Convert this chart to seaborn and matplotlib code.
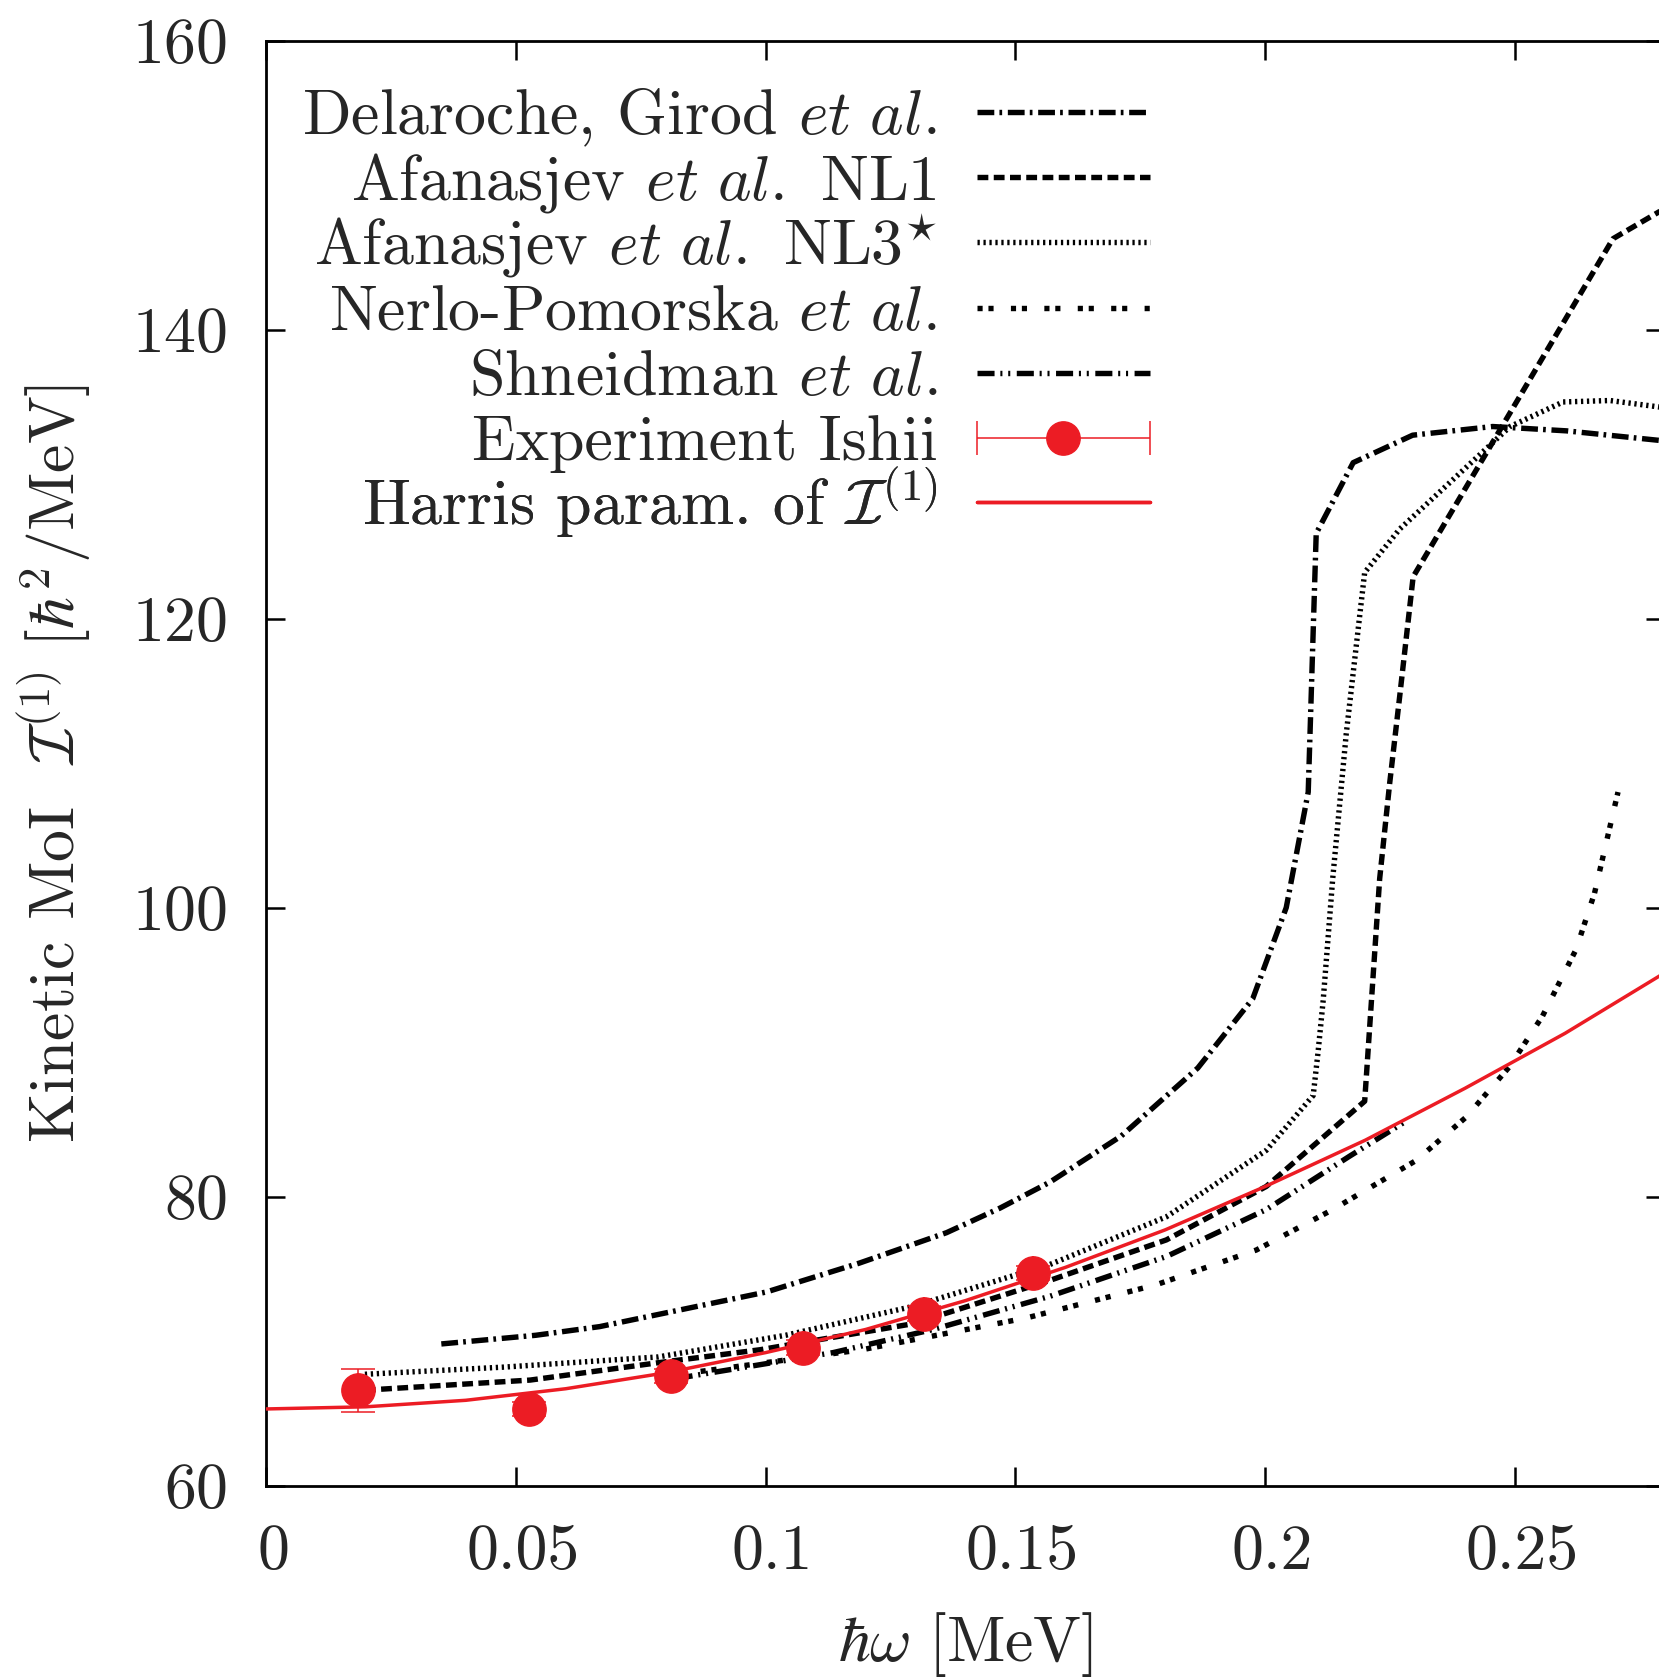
import numpy as np
import matplotlib
matplotlib.use("Agg")
import matplotlib.pyplot as plt
import seaborn as sns
from matplotlib.container import ErrorbarContainer
from matplotlib.legend_handler import HandlerErrorbar
from matplotlib.lines import Line2D
from matplotlib.transforms import ScaledTranslation

# ---------------- data ----------------
delaroche_w = [0.0351, 0.0540, 0.0668, 0.0835, 0.1002, 0.1188, 0.1362, 0.1469, 0.1569,
               0.1712, 0.1865, 0.1975, 0.2042, 0.2086, 0.2102, 0.2176, 0.2295, 0.2455,
               0.2603, 0.2800]
delaroche_I = [69.8, 70.4, 71.0, 72.2, 73.4, 75.4, 77.5, 79.2, 81.0,
               84.2, 88.9, 93.7, 100.0, 108.0, 125.9, 130.8, 132.7, 133.3,
               133.0, 132.3]

nl1_w = [0.0198, 0.0529, 0.0785, 0.0989, 0.1295, 0.1569, 0.1802, 0.2002, 0.2199,
         0.2229, 0.2249, 0.2269, 0.2296, 0.2696, 0.2800]
nl1_I = [66.6, 67.3, 68.5, 69.4, 71.2, 74.2, 77.0, 80.7, 86.6,
         102.0, 108.6, 114.6, 122.9, 146.3, 148.4]

nl3_w = [0.0198, 0.0478, 0.0785, 0.1040, 0.1295, 0.1569, 0.1802, 0.2002, 0.2096,
         0.2106, 0.2116, 0.2135, 0.2162, 0.2189, 0.2199, 0.2269, 0.2490, 0.2596,
         0.2690, 0.2800]
nl3_I = [67.7, 68.2, 68.9, 70.4, 72.4, 75.3, 78.6, 83.2, 87.0,
         90.1, 93.6, 102.0, 112.0, 120.2, 123.2, 126.2, 133.3, 135.0,
         135.1, 134.6]

nerlo_w = [0.0870, 0.1193, 0.1402, 0.1522, 0.1782, 0.1982, 0.2135, 0.2302, 0.2402,
           0.2489, 0.2555, 0.2622, 0.2659, 0.2706]
nerlo_I = [67.9, 69.4, 70.8, 71.6, 73.9, 76.3, 79.1, 82.5, 85.5,
           89.0, 92.5, 97.1, 101.0, 108.0]

shneidman_w = [0.0820, 0.1135, 0.1335, 0.1569, 0.1802, 0.2002, 0.2169, 0.2276]
shneidman_I = [67.4, 69.2, 70.8, 73.1, 75.85, 79.1, 82.8, 85.1]

exp_w = [0.0184, 0.0527, 0.0810, 0.1074, 0.1317, 0.1535]
exp_I = [66.6, 65.3, 67.6, 69.55, 71.9, 74.7]
exp_err = [1.5, 0.5, 0.5, 0.5, 0.5, 0.5]

harris_w = [0.00, 0.02, 0.04, 0.06, 0.08, 0.10, 0.12, 0.14, 0.16, 0.18, 0.20,
            0.22, 0.24, 0.26, 0.28]
harris_I = [65.3, 65.45, 65.9, 66.7, 67.8, 69.2, 70.8, 72.8, 75.1, 77.7, 80.7,
            83.9, 87.5, 91.3, 95.5]

labels = [
    r"Delaroche, Girod $\mathit{et\ al.}$",
    r"Afanasjev $\mathit{et\ al.}$ NL1",
    r"Afanasjev $\mathit{et\ al.}$ NL3$^{\star}$",
    r"Nerlo-Pomorska $\mathit{et\ al.}$",
    r"Shneidman $\mathit{et\ al.}$",
    r"Experiment Ishii",
    r"Harris param. of $\mathcal{I}^{(1)}$",
]

xticks = [0, 0.05, 0.1, 0.15, 0.2, 0.25]
xticklabels = ["0", "0.05", "0.1", "0.15", "0.2", "0.25"]
yticks = [60, 80, 100, 120, 140, 160]

# ---------------- style ----------------
sns.set_style("ticks")
FS = 46
plt.rcParams.update({
    "font.family": "cmr10",
    "mathtext.fontset": "cm",
    "axes.formatter.use_mathtext": True,
    "font.size": FS,
    "axes.unicode_minus": False,
})

RED = "#ec1c24"
LW = 3.9
DPI = 100

fig = plt.figure(figsize=(16.59, 16.78), dpi=DPI)
ax = fig.add_axes([0.1603, 0.1147, 0.8433, 0.8610])

# dash patterns in units of line width
curves = [
    (delaroche_w, delaroche_I, (0, (3.1, 0.95, 0.5, 1.05))),
    (nl1_w, nl1_I, (0, (2.0, 1.0))),
    (nl3_w, nl3_I, (0, (0.42, 0.68))),
    (nerlo_w, nerlo_I, (0, (0.95, 1.07, 0.95, 3.2))),
    (shneidman_w, shneidman_I, (0, (3.15, 1.07, 0.38, 1.07, 0.38, 1.2))),
]

handles = []
for (w, I, ls), lab in zip(curves, labels[:5]):
    sns.lineplot(x=w, y=I, ax=ax, color="black", lw=LW, linestyle=ls,
                 sort=False, estimator=None, label=lab, legend=False, zorder=2)
    handles.append(ax.lines[-1])

sns.lineplot(x=harris_w, y=harris_I, ax=ax, color=RED, lw=2.5, sort=False,
             estimator=None, label=labels[6], legend=False, zorder=3)
harris_line = ax.lines[-1]

eb = ax.errorbar(exp_w, exp_I, yerr=exp_err, xerr=np.zeros(len(exp_w)),
                 fmt="o", color=RED, ms=24, ecolor=RED, elinewidth=1.1,
                 capsize=12, capthick=1.1, zorder=5, label=labels[5])

handles += [eb, harris_line]

ax.set_xlim(0, 0.28)
ax.set_ylim(60, 160)
ax.set_xticks(xticks)
ax.set_xticklabels(xticklabels)
ax.set_yticks(yticks)

for sp in ax.spines.values():
    sp.set_linewidth(2.0)
    sp.set_color("black")
    sp.set_visible(True)

ax.tick_params(direction="in", length=14, width=1.8, top=True, right=True,
               labelsize=FS, color="black")
ax.tick_params(axis="x", pad=28)
ax.tick_params(axis="y", pad=28)

shift = ScaledTranslation(7 / DPI, 0, fig.dpi_scale_trans)
for t in ax.get_xticklabels():
    t.set_transform(t.get_transform() + shift)

ax.set_xlabel(r"$\hbar\omega\ [\mathrm{MeV}]$", fontsize=FS, va="center")
ax.xaxis.set_label_coords(0.5, -0.110)
ax.set_ylabel(r"Kinetic MoI  $\mathcal{I}^{(1)}\ [\hbar^2/\mathrm{MeV}]$",
              fontsize=FS, va="center")
ax.yaxis.set_label_coords(-0.152, 0.5)

# ---------------- key: one row per entry, samples right-aligned ----------------
fig_w = fig.get_figwidth() * DPI
fig_h = fig.get_figheight() * DPI
key_right_px = 1150.0        # right end of the key samples (px from left)
key_top_px = 112.5           # sample line of the first row (px from top)
key_pitch_px = 65.0
ax_box = ax.get_position()
ax_x0, ax_w = ax_box.x0 * fig_w, ax_box.width * fig_w
ax_y0, ax_h = ax_box.y0 * fig_h, ax_box.height * fig_h

hmap = {ErrorbarContainer: HandlerErrorbar(xerr_size=1.355, yerr_size=0)}
legends = []
for i, (h, lab) in enumerate(zip(handles, labels)):
    target_y = fig_h - (key_top_px + i * key_pitch_px)
    yf = (target_y - ax_y0) / ax_h
    xf = (key_right_px - ax_x0) / ax_w
    lg = ax.legend([h], [lab], loc="center right", bbox_to_anchor=(xf, yf),
                   frameon=False, markerfirst=False, handlelength=2.71,
                   handletextpad=0.62, borderpad=0, borderaxespad=0,
                   numpoints=1, fontsize=FS, handler_map=hmap)
    ax.add_artist(lg)
    legends.append((lg, xf, yf, target_y))

# place each sample line exactly on its row (using the drawn line vertices)
fig.canvas.draw()
for lg, xf, yf, target_y in legends:
    pts = np.vstack([a.get_transform().transform(a.get_xydata())
                     for a in lg.findobj(Line2D) if a is not lg and len(a.get_xydata())])
    dy = target_y - np.median(pts[:, 1])
    dx = key_right_px - pts[:, 0].max()
    lg.set_bbox_to_anchor((xf + dx / ax_w, yf + dy / ax_h), transform=ax.transAxes)

fig.savefig("out.png", dpi=DPI)
